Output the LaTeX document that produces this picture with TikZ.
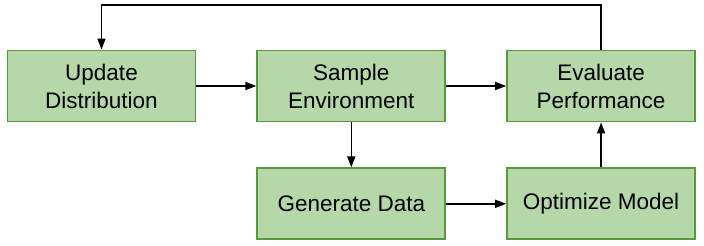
\documentclass[tikz,border=0pt]{standalone}
\usepackage{fontspec}
\setmainfont{Liberation Sans}
\usetikzlibrary{positioning,arrows.meta}

\definecolor{boxfill}{HTML}{B6D7A8}
\definecolor{boxline}{HTML}{5A9A3E}

\tikzset{
    stepbox/.style={draw=boxline, fill=boxfill, line width=1.8pt, minimum width=188pt, minimum height=71pt,
        align=center, font=\fontsize{22.5}{28}\selectfont, inner sep=0pt},
    flow/.style={line width=1.6pt, -{Triangle[length=11pt,width=8pt]}}
}

\begin{document}
\begin{tikzpicture}[x=1pt,y=1pt]
        \useasboundingbox (0,0) rectangle (704,246);
        \node[stepbox] (update) at (101.5,160) {Update\\Distribution};
        \node[stepbox, right=60pt of update] (sample) {Sample\\Environment};
        \node[stepbox, right=60pt of sample] (evaluate) {Evaluate\\Performance};
        \node[stepbox, below=45pt of sample] (generate) {Generate Data};
        \node[stepbox, below=45pt of evaluate] (optimize) {Optimize Model};
        \draw[flow] (update) -- (sample);
        \draw[flow] (sample) -- (evaluate);
        \draw[flow] (sample) -- (generate);
        \draw[flow] (generate) -- (optimize);
        \draw[flow] (optimize) -- (evaluate);
        \coordinate (topright) at (evaluate.north |- 0,241);
        \coordinate (topleft) at (update.north |- 0,241);
        \draw[flow] (evaluate.north) -- (topright) -- (topleft) -- (update.north);
    \end{tikzpicture}
\end{document}
